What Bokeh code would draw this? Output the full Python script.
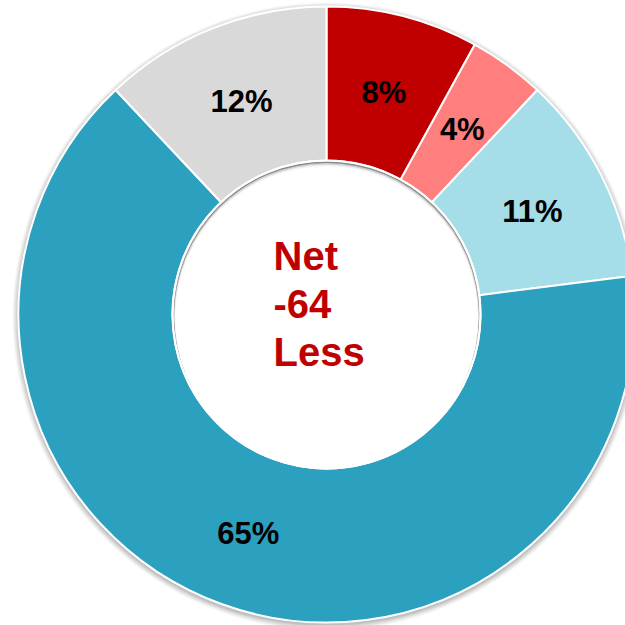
import numpy as np
from bokeh.plotting import figure
from bokeh.models import Range1d, ColumnDataSource
from bokeh.core.properties import value
from bokeh.embed import file_html
from bokeh.resources import INLINE

# ---- data (clockwise from 12 o'clock) ----
categories = ["A", "B", "C", "D", "E"]
values = [8, 4, 11, 65, 12]
colors = ["#C00000", "#FF7F7F", "#A5DDE9", "#2CA1BF", "#D9D9D9"]
center_lines = ["Net", "-64", "Less"]

FONT = value("Liberation Sans")

vals = np.array(values, dtype=float)
frac = vals / vals.sum()
cum = np.concatenate([[0.0], np.cumsum(frac)])
start = np.pi / 2 - 2 * np.pi * cum[:-1]
end = np.pi / 2 - 2 * np.pi * cum[1:]
mid = (start + end) / 2

R_OUT = 308
R_IN = 154
R_LAB = (R_OUT + R_IN) / 2

src = ColumnDataSource(dict(
    cat=categories, start=start, end=end, color=colors,
    lx=R_LAB * np.cos(mid), ly=R_LAB * np.sin(mid),
    label=[f"{v}%" for v in values],
))

p = figure(width=625, height=625, output_backend="svg", toolbar_location=None,
           x_range=Range1d(-326, 299), y_range=Range1d(-311, 314),
           x_axis_location=None, y_axis_location=None, min_border=0,
           outline_line_color=None)
p.grid.visible = False
p.background_fill_color = "white"
p.border_fill_color = "white"

# soft drop shadow around outer edge
for k, a in [(6, 0.05), (5, 0.06), (4, 0.07), (3, 0.08), (2, 0.10), (1, 0.12)]:
    p.circle(x=0, y=-2, radius=R_OUT + k, fill_color="#606060", fill_alpha=a,
             line_color=None)

# donut
p.annular_wedge(x=0, y=0, inner_radius=R_IN, outer_radius=R_OUT,
                start_angle="start", end_angle="end", direction="clock",
                fill_color="color", line_color="white", line_width=2, source=src)

# recessed hole with inner shadow at top
p.circle(x=0, y=0, radius=R_IN - 1, fill_color="#8a8a8a", line_color=None)
for dy, rr, a in [(-1, R_IN - 1.5, 0.6), (-2, R_IN - 2, 0.7), (-3, R_IN - 2.5, 0.85), (-4, R_IN - 3, 1.0)]:
    p.circle(x=0, y=dy, radius=rr, fill_color="white", fill_alpha=a, line_color=None)
p.circle(x=0, y=0, radius=R_IN, fill_color=None, line_color="white", line_width=2)

# slice labels
p.text(x="lx", y="ly", text="label", source=src, text_align="center",
       text_baseline="alphabetic", y_offset=2, text_font=FONT,
       text_font_style="bold", text_font_size="31px", text_color="black")

# center text
line_gap = 48
cy = [line_gap * (1 - i) + 11 for i in range(len(center_lines))]
p.text(x=[-53] * len(center_lines), y=cy, text=center_lines, text_align="left",
       text_baseline="alphabetic", text_font=FONT, text_font_style="bold",
       text_font_size="40px", text_color="#C00000")

open("out.html", "w").write(file_html(p, INLINE))
